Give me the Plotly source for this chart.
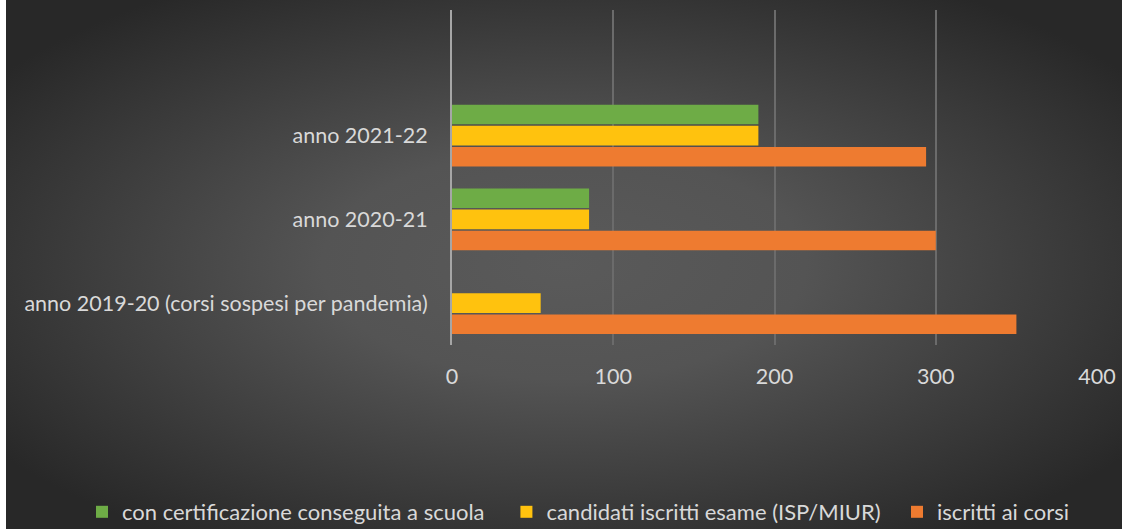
import base64
import plotly.graph_objects as go

categories = ["anno 2019-20 (corsi sospesi per pandemia)", "anno 2020-21", "anno 2021-22"]
iscritti_corsi = [350, 300, 294]
candidati_esame = [55, 85, 190]
certificazione = [0, 85, 190]
series_names = ["iscritti ai corsi", "candidati iscritti esame (ISP/MIUR)", "con certificazione conseguita a scuola"]
x_ticks = [0, 100, 200, 300, 400]

W, H = 1122, 529
L, R, T, B = 452, 24, 10, 184
pw, ph = W - L - R, H - T - B

svg = (
    "<svg xmlns='http://www.w3.org/2000/svg' width='1116' height='529' preserveAspectRatio='none'>"
    "<defs><radialGradient id='g' cx='50%' cy='50%' r='62%' gradientUnits='objectBoundingBox'>"
    "<stop offset='0' stop-color='#5a5a5a'/><stop offset='0.35' stop-color='#545454'/>"
    "<stop offset='1' stop-color='#282828'/></radialGradient></defs>"
    "<rect x='0' y='0' width='1116' height='529' fill='url(#g)'/></svg>"
)
src = "data:image/svg+xml;base64," + base64.b64encode(svg.encode()).decode()

colors = ["#ee7b30", "#ffc20e", "#6eac46"]
pads = ["", "\u00a0" * 2, "\u00a0" * 3]
fig = go.Figure()
for vals, name, col, pad in zip([iscritti_corsi, candidati_esame, certificazione], series_names, colors, pads):
    fig.add_trace(go.Bar(y=categories, x=vals, name=name + pad, orientation="h",
                         marker=dict(color=col, line=dict(width=0))))

font = dict(family="Lato, Carlito, sans-serif", size=21.5, color="#d9d9d9")
fig.update_layout(
    width=W, height=H,
    margin=dict(l=L, r=R, t=T, b=B, autoexpand=False),
    paper_bgcolor="white",
    plot_bgcolor="rgba(0,0,0,0)",
    barmode="group", bargap=0.24, bargroupgap=0.08,
    font=font,
    showlegend=True,
    legend=dict(orientation="h", xref="paper", x=(82 - L) / pw, xanchor="left",
                yref="paper", y=(T + ph - 512) / ph, yanchor="middle",
                traceorder="reversed", font=dict(font, size=22),
                itemwidth=30, bgcolor="rgba(0,0,0,0)"),
    images=[dict(source=src, xref="paper", yref="paper",
                 x=(6 - L) / pw, y=1 + T / ph, sizex=(W - 6) / pw, sizey=H / ph,
                 xanchor="left", yanchor="top", sizing="stretch", layer="below")],
    xaxis=dict(range=[0, 400.6], tickvals=x_ticks, ticktext=[str(v) for v in x_ticks],
               showgrid=True, gridcolor="#6b6b6b", gridwidth=1.5, zeroline=False,
               showline=False, ticks="", ticklabelstandoff=16, tickfont=font),
    yaxis=dict(type="category", categoryorder="array", categoryarray=categories,
               range=[-0.5, 3.5], showgrid=False, zeroline=False,
               showline=True, linecolor="#a6a6a6", linewidth=2,
               ticks="", ticklabelstandoff=18, tickfont=font),
)
fig.write_html("out.html", config={"displayModeBar": False},
               post_script="document.body.style.margin='0';document.body.style.padding='0';")
